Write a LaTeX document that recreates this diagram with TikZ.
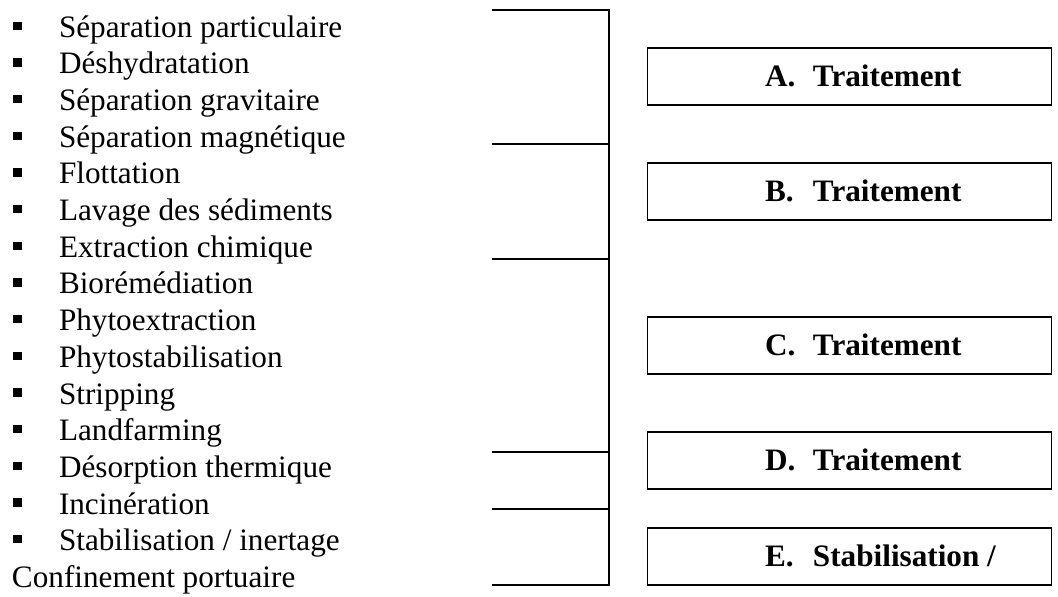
\documentclass[tikz,border=0pt]{standalone}
\usepackage{fontspec}
\setmainfont{Liberation Serif}
\begin{document}
\begin{tikzpicture}[x=1pt,y=-1pt,
  every node/.style={inner sep=0pt,outer sep=0pt},
  item/.style={anchor=base west,font=\fontsize{31.2}{36}\selectfont},
  rail/.style={line width=1.6pt,line cap=rect},
  box/.style={draw,line width=1.6pt,minimum width=404pt,minimum height=57pt},
  boxtext/.style={anchor=base west,font=\fontsize{31.2}{36}\selectfont\bfseries}]
\useasboundingbox (0,0) rectangle (1058,597);
% bulleted list of techniques
\newcommand{\blt}{\makebox[46pt][l]{\rule[7.3pt]{8.5pt}{8.5pt}}}
\foreach \t [count=\i from 0] in {%
  Séparation particulaire,Déshydratation,Séparation gravitaire,%
  Séparation magnétique,Flottation,Lavage des sédiments,%
  Extraction chimique,Biorémédiation,Phytoextraction,%
  Phytostabilisation,Stripping,Landfarming,Désorption thermique,%
  Incinération,{Stabilisation / inertage}}
  \node[item] (it\i) at (13,37.3+36.67*\i) {\blt\t};
\node[item] (conf) at (12,37.3+36.67*15) {Confinement portuaire};
% bracket: spine and branch lines
\foreach \n/\y in {1/10,2/144,3/259,4/452,5/509,6/585}{
  \coordinate (l\n) at (493,\y);
  \coordinate (s\n) at (609,\y);
}
\draw[rail] (s1) -- (s6);
\foreach \n in {1,...,6} \draw[rail] (l\n) -- (s\n);
% category boxes
\foreach \k/\top/\txt in {A/48/Traitement,B/163/Traitement,C/317/Traitement,
                          D/432/Traitement,E/528/{Stabilisation /}}{
  \node[box] (box\k) at (849.5,\top+28.5) {};
  \node[boxtext] (lab\k) at (765,\top+38.7) {\makebox[48pt][l]{\k.}\txt};
}
\end{tikzpicture}
\end{document}
